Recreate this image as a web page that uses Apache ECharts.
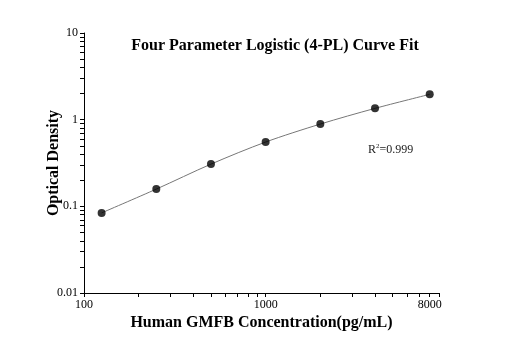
<!DOCTYPE html>
<html>
<head>
<meta charset="utf-8">
<script src="https://cdn.jsdelivr.net/npm/echarts@6/dist/echarts.min.js"></script>
<style>
  html, body { margin: 0; padding: 0; background: #fff; }
  #chart { width: 512px; height: 353px; }
</style>
</head>
<body>
<div id="chart"></div>
<script>
var concentrations = [125, 250, 500, 1000, 2000, 4000, 8000];
var densities = [0.084, 0.158, 0.307, 0.552, 0.89, 1.35, 1.96];
var xLabelValues = [100, 1000, 8000];
var xTickValues = [100, 200, 300, 400, 500, 600, 700, 800, 900, 1000,
  2000, 3000, 4000, 5000, 6000, 7000, 8000, 9000];
var yLabelValues = [0.01, 0.1, 1, 10];
var yTickValues = [0.01, 0.02, 0.03, 0.04, 0.05, 0.06, 0.07, 0.08, 0.09,
  0.1, 0.2, 0.3, 0.4, 0.5, 0.6, 0.7, 0.8, 0.9,
  1, 2, 3, 4, 5, 6, 7, 8, 9, 10];

var font = '"Liberation Serif", "DejaVu Serif", serif';

var chartDom = document.getElementById('chart');
var myChart = echarts.init(chartDom);

var points = concentrations.map(function (c, i) { return [c, densities[i]]; });

function plain(v) { return String(+(+v).toPrecision(3)); }

var option = {
  animation: false,
  title: {
    text: 'Four Parameter Logistic (4-PL) Curve Fit',
    left: 270,
    top: 33,
    textAlign: 'center',
    textStyle: { fontFamily: font, fontSize: 16, fontWeight: 'bold', color: '#000' }
  },
  grid: { left: 84, right: 73, top: 33, bottom: 60 },
  xAxis: {
    type: 'log',
    logBase: 10,
    min: 100,
    max: 9000,
    name: 'Human GMFB Concentration(pg/mL)',
    nameLocation: 'middle',
    nameGap: 22,
    nameMoveOverlap: false,
    nameTextStyle: { fontFamily: font, fontSize: 16, fontWeight: 'bold', color: '#000' },
    axisLine: { lineStyle: { color: '#000', width: 1 } },
    axisTick: { customValues: xTickValues, length: 4, lineStyle: { color: '#000' } },
    axisLabel: {
      customValues: xLabelValues,
      fontFamily: font, fontSize: 12, color: '#000', margin: 6,
      formatter: plain
    },
    splitLine: { show: false }
  },
  yAxis: {
    type: 'log',
    logBase: 10,
    min: 0.01,
    max: 10,
    name: 'Optical Density',
    nameLocation: 'middle',
    nameGap: 22,
    nameMoveOverlap: false,
    nameTextStyle: { fontFamily: font, fontSize: 16, fontWeight: 'bold', color: '#000' },
    axisLine: { show: true, lineStyle: { color: '#000', width: 1 } },
    axisTick: { show: true, customValues: yTickValues, length: 4, lineStyle: { color: '#000' } },
    axisLabel: {
      customValues: yLabelValues,
      fontFamily: font, fontSize: 12, color: '#000', margin: 6,
      formatter: plain
    },
    splitLine: { show: false }
  },
  graphic: [{
    type: 'text',
    left: 368,
    top: 143,
    style: {
      rich: {
        r: { fontFamily: font, fontSize: 12, fill: '#222' },
        s: { fontFamily: font, fontSize: 7, fill: '#222', verticalAlign: 'top', padding: [0, 0, 6, 0] }
      },
      text: '{r|R}{s|2}{r|=0.999}'
    }
  }],
  series: [
    {
      type: 'line',
      data: points,
      smooth: 0.3,
      symbol: 'none',
      lineStyle: { color: '#777', width: 1 },
      z: 1
    },
    {
      type: 'scatter',
      data: points,
      symbol: 'circle',
      symbolSize: 8,
      itemStyle: { color: '#000' },
      z: 2
    }
  ]
};

myChart.setOption(option);
</script>
</body>
</html>
